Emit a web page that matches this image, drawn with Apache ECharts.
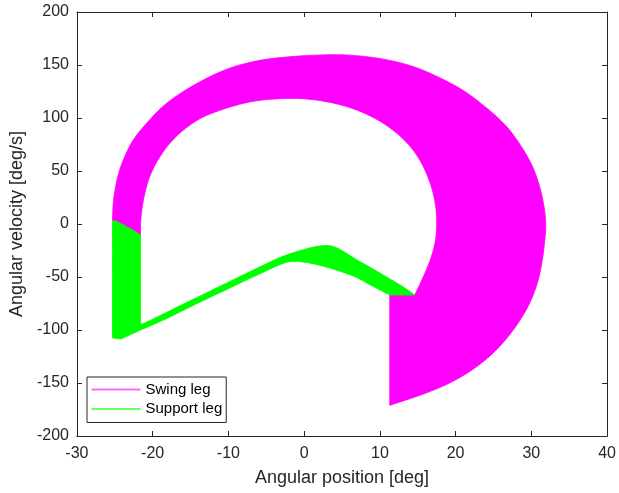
<!DOCTYPE html>
<html>
<head>
<meta charset="utf-8">
<script src="https://cdn.jsdelivr.net/npm/echarts@6/dist/echarts.min.js"></script>
<style>
  html, body { margin: 0; padding: 0; background: #fff; }
  #chart { width: 619px; height: 493px; }
</style>
</head>
<body>
<div id="chart"></div>
<script>
// ---- Data (angle [deg], velocity [deg/s]) ----
const xRange = [-30, 40];
const yRange = [-200, 200];

// Swing leg: outer envelope of the bundle of swing trajectories
const swingOuterEdge = [
  [-25.3, 3], [-25.2, 20], [-24.9, 35], [-24.4, 50], [-23.6, 65], [-22.5, 80],
  [-20.8, 95], [-18.8, 110], [-16.6, 122], [-13.8, 134], [-10.9, 144], [-8.0, 151],
  [-3.8, 156.5], [3.2, 159.7], [7.4, 158.5], [11.2, 154.5], [14.6, 148], [17.9, 138],
  [21.0, 126], [24.0, 110], [26.6, 93], [28.5, 75], [30.1, 55], [31.1, 35], [31.7, 15],
  [31.9, -2], [31.7, -20], [31.3, -40], [30.6, -60], [29.4, -80], [27.6, -100],
  [25.2, -120], [22.3, -137], [19.2, -150], [15.5, -161], [11.3, -171]
];
// Swing leg: end of the impact jumps (vertical lines up to the support start)
const swingImpactTop = [[11.3, -67], [14.6, -67]];
// Swing leg: inner envelope (from the support start back round to the swing start)
const swingInnerEdge = [
  [14.6, -67], [15.6, -52], [16.6, -35], [17.3, -17], [17.5, 0], [17.4, 15], [17.0, 30],
  [16.3, 45], [15.3, 60], [13.9, 74], [12.0, 87], [10.0, 97], [7.5, 106], [4.5, 113],
  [1.2, 117.3], [-1.7, 118.5], [-5.5, 117], [-8.5, 113], [-11.2, 107], [-13.6, 100],
  [-15.7, 90], [-17.5, 78], [-19.0, 64], [-20.2, 48], [-20.9, 33], [-21.4, 15],
  [-21.6, 0], [-21.6, -10.3]
];
// Support leg: top of the impact jumps on the left (start of swing)
const supportImpactTop = [[-25.3, 3], [-24.8, 2.5], [-23.6, -2], [-22.6, -6], [-21.6, -10.3]];
// Support leg: upper edge of the support band (left to right)
const supportUpperEdge = [
  [-21.6, -95.4], [-18.4, -84.2], [-12, -61.9], [-6, -41], [-3.5, -32.5], [-1.5, -27.2],
  [0.5, -23], [2, -20.8], [2.8, -20.3], [3.6, -20.8], [4.6, -23.5], [5.8, -28.5],
  [7, -34], [9, -42], [11, -50.5], [13, -59], [14.6, -67]
];
// Support leg: lower edge of the support band (right to left)
const supportLowerEdge = [
  [11.3, -67], [9, -58.5], [6.8, -50], [4.5, -44], [2.5, -39.8], [0.5, -36.5],
  [-1.5, -35.3], [-2.8, -37.2], [-6, -47.5], [-10, -61], [-14, -74.5], [-18.4, -90],
  [-21.6, -100], [-24.2, -108.6], [-25.3, -107.5]
];

const SWING = '#ff00ff';
const SUPPORT = '#00ff00';
const AXIS = '#262626';
const FONT = 'Liberation Sans, Arial, Helvetica, sans-serif';

// A point repeated twice stays a sharp corner when the outline is smoothed.
function sharp(p) { return [p, p]; }
function first(a) { return a[0]; }
function last(a) { return a[a.length - 1]; }
function inner(a) { return a.slice(1, a.length - 1); }

const swingPolygon = [].concat(
  sharp(first(swingOuterEdge)), inner(swingOuterEdge), sharp(last(swingOuterEdge)),
  sharp(swingImpactTop[0]),
  sharp(first(swingInnerEdge)), inner(swingInnerEdge), sharp(last(swingInnerEdge)),
  inner(supportImpactTop).reverse()
);
const supportPolygon = [].concat(
  sharp(first(supportImpactTop)), inner(supportImpactTop), sharp(last(supportImpactTop)),
  sharp(first(supportUpperEdge)), inner(supportUpperEdge), sharp(last(supportUpperEdge)),
  sharp(first(supportLowerEdge)), inner(supportLowerEdge).slice(0, -1),
  sharp(supportLowerEdge[supportLowerEdge.length - 2]), sharp(last(supportLowerEdge))
);

function polygonRenderer(points, color) {
  return function (params, api) {
    return {
      type: 'polygon',
      shape: { points: points.map(p => api.coord(p)), smooth: 0.35 },
      style: { fill: color, stroke: color, lineWidth: 0.8 }
    };
  };
}

const chart = echarts.init(document.getElementById('chart'), null, { renderer: 'canvas' });

function axisCommon(extra) {
  return Object.assign({
    type: 'value',
    splitLine: { show: false },
    axisLine: { show: true, onZero: false, lineStyle: { color: AXIS, width: 1 } },
    axisTick: { show: true, inside: true, length: 5, lineStyle: { color: AXIS, width: 1 } },
    axisLabel: { show: true, color: AXIS, fontSize: 16, fontFamily: FONT }
  }, extra);
}

chart.setOption({
  animation: false,
  backgroundColor: '#ffffff',
  grid: { left: 73, right: 10, top: 12, bottom: 57, containLabel: false },
  xAxis: [
    axisCommon({
      position: 'bottom', min: xRange[0], max: xRange[1], interval: 10,
      axisLabel: { color: AXIS, fontSize: 16, fontFamily: FONT, margin: 10 },
      name: 'Angular position [deg]', nameLocation: 'middle', nameGap: 33,
      nameTextStyle: { color: AXIS, fontSize: 18, fontFamily: FONT }
    }),
    axisCommon({
      position: 'top', min: xRange[0], max: xRange[1], interval: 10,
      axisLabel: { show: false }
    })
  ],
  yAxis: [
    axisCommon({
      position: 'left', min: yRange[0], max: yRange[1], interval: 50,
      axisLabel: { color: AXIS, fontSize: 16, fontFamily: FONT, margin: 8 },
      name: 'Angular velocity [deg/s]', nameLocation: 'middle', nameGap: 46,
      nameTextStyle: { color: AXIS, fontSize: 18, fontFamily: FONT }
    }),
    axisCommon({
      position: 'right', min: yRange[0], max: yRange[1], interval: 50,
      axisLabel: { show: false }
    })
  ],
  legend: {
    orient: 'vertical',
    left: 87, top: 377,
    padding: [3.5, 4, 4.5, 4.5],
    itemGap: 1.5,
    itemWidth: 49,
    itemHeight: 2,
    backgroundColor: '#ffffff',
    borderColor: AXIS,
    borderWidth: 1,
    borderRadius: 0,
    textStyle: { color: '#000000', fontSize: 15, fontFamily: FONT, lineHeight: 18 },
    data: [
      { name: 'Swing leg', icon: 'rect', itemStyle: { color: '#ff66ff' } },
      { name: 'Support leg', icon: 'rect', itemStyle: { color: '#66ff66' } }
    ],
    selectedMode: false
  },
  series: [
    {
      type: 'custom', name: 'Swing leg', coordinateSystem: 'cartesian2d',
      xAxisIndex: 0, yAxisIndex: 0, silent: true,
      itemStyle: { color: SWING },
      data: [[swingOuterEdge[0][0], swingOuterEdge[0][1]]],
      renderItem: polygonRenderer(swingPolygon, SWING)
    },
    {
      type: 'custom', name: 'Support leg', coordinateSystem: 'cartesian2d',
      xAxisIndex: 0, yAxisIndex: 0, silent: true,
      itemStyle: { color: SUPPORT },
      data: [[supportImpactTop[0][0], supportImpactTop[0][1]]],
      renderItem: polygonRenderer(supportPolygon, SUPPORT)
    }
  ]
});
</script>
</body>
</html>
